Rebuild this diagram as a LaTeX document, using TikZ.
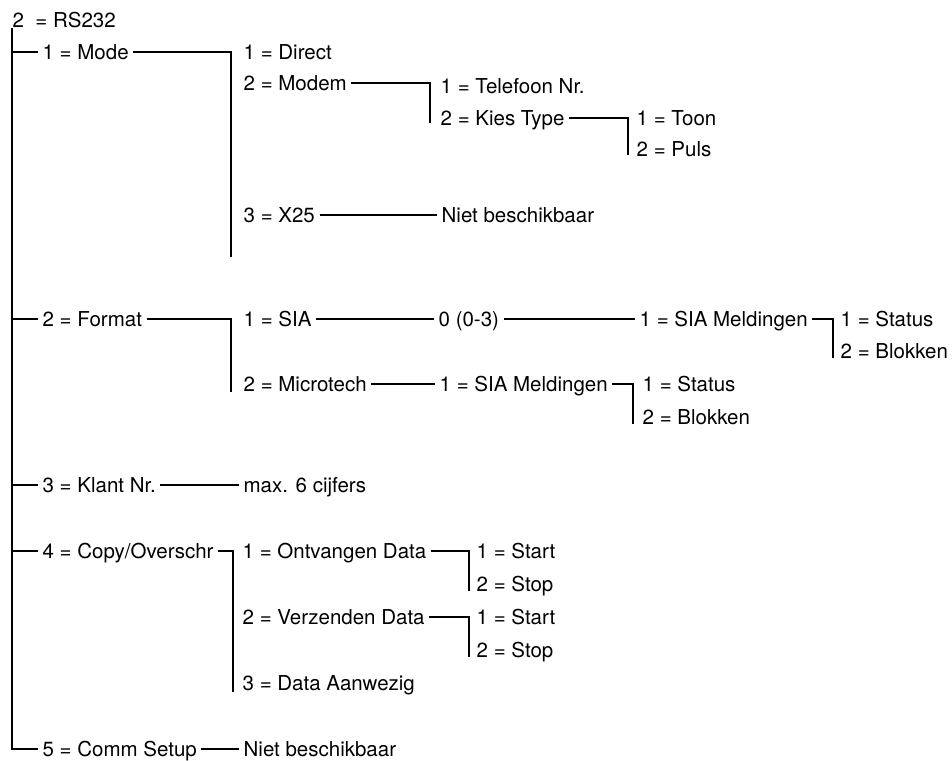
\documentclass[tikz,border=0pt]{standalone}
\usepackage{fontspec}
\setmainfont{TeX Gyre Heros}

\begin{document}
\begin{tikzpicture}[x=1pt,y=-1pt,line width=1.3pt,
  item/.style={anchor=west,inner xsep=4pt,inner ysep=0pt,text height=14.5pt,text depth=0pt,font=\fontsize{20.5}{24}\selectfont}]
\useasboundingbox (0,0) rectangle (952,760);

\node[item] (root) at (8,20) {2~~= RS232};
\coordinate (trunk) at (12,28);

\node[item] (mode) at (38,52) {1 = Mode};
\node[item] (direct) at (239,52) {1 = Direct};
\node[item] (modem) at (239,83) {2 = Modem};
\node[item] (telnr) at (436,86) {1 = Telefoon Nr.};
\node[item] (kies) at (436,118) {2 = Kies Type};
\node[item] (toon) at (632,118) {1 = Toon};
\node[item] (puls) at (632,149) {2 = Puls};
\node[item] (xtf) at (239,215) {3 = X25};
\node[item] (nbone) at (437,215) {Niet beschikbaar};

\node[item] (format) at (38,319) {2 = Format};
\node[item] (sia) at (239,319) {1 = SIA};
\node[item] (range) at (434,319) {0 (0-3)};
\node[item] (meldone) at (635,319) {1 = SIA Meldingen};
\node[item] (statone) at (836,319) {1 = Status};
\node[item] (blokone) at (836,351) {2 = Blokken};
\node[item] (micro) at (239,384) {2 = Microtech};
\node[item] (meldtwo) at (435,384) {1 = SIA Meldingen};
\node[item] (stattwo) at (638,384) {1 = Status};
\node[item] (bloktwo) at (638,417) {2 = Blokken};

\node[item] (klant) at (38,485) {3 = Klant Nr.};
\node[item] (maxdig) at (239,485) {max. 6 cijfers};

\node[item] (copy) at (38,551) {4 = Copy/Overschr};
\node[item] (ontv) at (238,551) {1 = Ontvangen Data};
\node[item] (startone) at (472,551) {1 = Start};
\node[item] (stopone) at (472,584) {2 = Stop};
\node[item] (verz) at (238,617) {2 = Verzenden Data};
\node[item] (starttwo) at (472,617) {1 = Start};
\node[item] (stoptwo) at (472,650) {2 = Stop};
\node[item] (aanw) at (238,683) {3 = Data Aanwezig};

\node[item] (comm) at (38,749) {5 = Comm Setup};
\node[item] (nbtwo) at (239,749) {Niet beschikbaar};

\coordinate (bmode) at (231,257);
\coordinate (bmodem) at (430,123);
\coordinate (bkies) at (628,155);
\coordinate (bformat) at (231,392);
\coordinate (bmeldone) at (833,358);
\coordinate (bmeldtwo) at (633,424);
\coordinate (bcopy) at (233,692);
\coordinate (bontv) at (469,591);
\coordinate (bverz) at (469,657);

\draw (trunk) |- (comm.west);
\draw (mode.west -| trunk) -- (mode.west);
\draw (format.west -| trunk) -- (format.west);
\draw (klant.west -| trunk) -- (klant.west);
\draw (copy.west -| trunk) -- (copy.west);

\draw (mode.east) -| (bmode);
\draw (modem.east) -| (bmodem);
\draw (kies.east) -| (bkies);
\draw (xtf.east) -- (nbone.west);

\draw (format.east) -| (bformat);
\draw (sia.east) -- (range.west);
\draw (range.east) -- (meldone.west);
\draw (meldone.east) -| (bmeldone);
\draw (micro.east) -- (meldtwo.west);
\draw (meldtwo.east) -| (bmeldtwo);

\draw (klant.east) -- (maxdig.west);

\draw (copy.east) -| (bcopy);
\draw (ontv.east) -| (bontv);
\draw (verz.east) -| (bverz);

\draw (comm.east) -- (nbtwo.west);
\end{tikzpicture}
\end{document}
